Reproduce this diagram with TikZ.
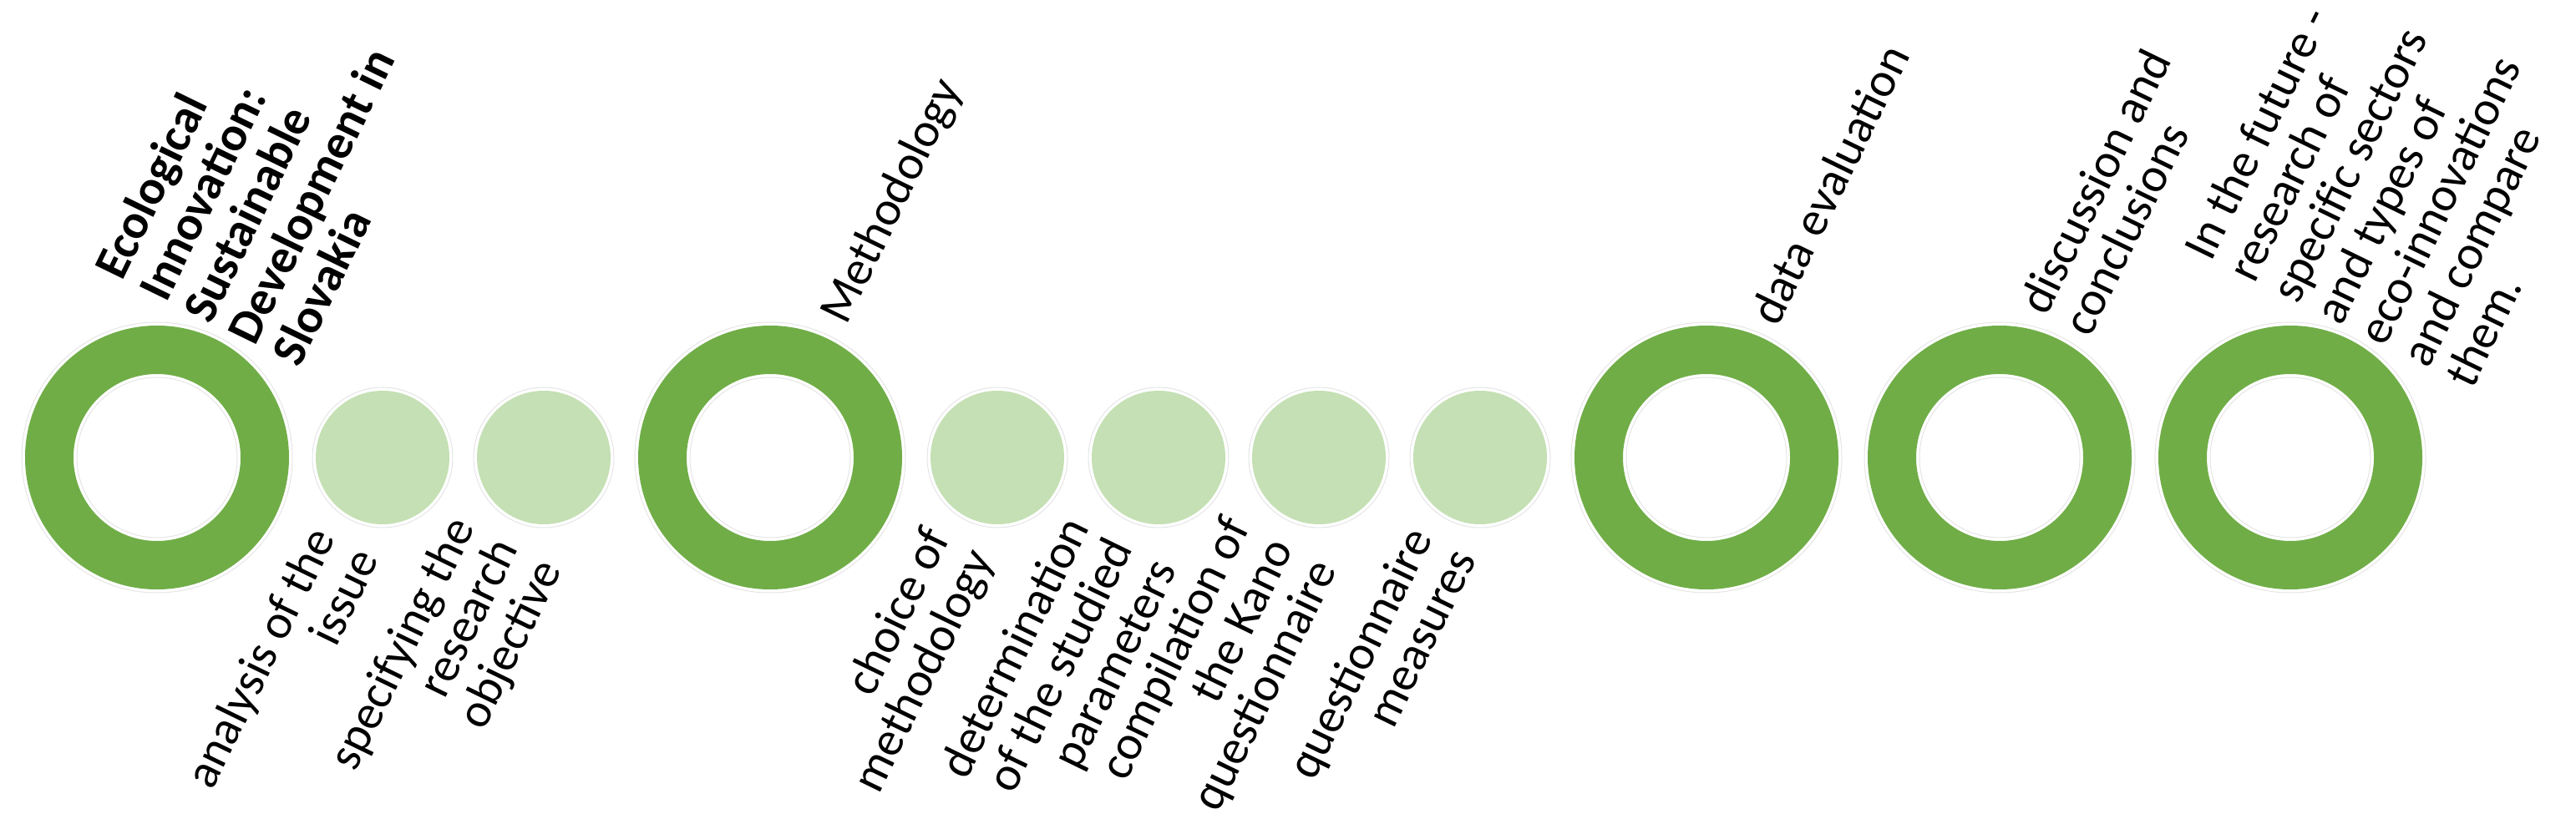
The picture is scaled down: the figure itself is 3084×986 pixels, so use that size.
\documentclass[tikz,border=0pt]{standalone}
\usepackage{fontspec}
\setmainfont{Carlito}
\definecolor{ringgreen}{HTML}{70AD47}
\definecolor{dotgreen}{HTML}{C5E0B4}
\newcommand\labfont{\fontsize{58}{58}\selectfont}
\begin{document}
\begin{tikzpicture}[x=1pt,y=1pt,
  ring/.style={circle, draw=ringgreen, line width=58pt, minimum size=258pt, inner sep=0pt},
  dot/.style={circle, fill=dotgreen, minimum size=160pt, inner sep=0pt},
  faint/.style={draw=black!10, line width=1pt},
  toplab/.style={rotate=64, anchor=north west, align=left, inner sep=0pt, font=\labfont},
  botlab/.style={rotate=64, anchor=north east, align=right, inner sep=0pt, font=\labfont}]
\useasboundingbox (0,0) rectangle (3084,986);
% circles
\node[ring] (r1) at (188,438) {};
\node[dot]  (d1) at (458,438) {};
\node[dot]  (d2) at (651,438) {};
\node[ring] (r2) at (922,438) {};
\node[dot]  (d3) at (1194,438) {};
\node[dot]  (d4) at (1387,438) {};
\node[dot]  (d5) at (1579,438) {};
\node[dot]  (d6) at (1772,438) {};
\node[ring] (r3) at (2043,438) {};
\node[ring] (r4) at (2394,438) {};
\node[ring] (r5) at (2742,438) {};
\foreach \r in {r1,r2,r3,r4,r5}{
  \draw[faint] (\r.center) circle[radius=162];
  \draw[faint] (\r.center) circle[radius=96];
}
\foreach \d in {d1,d2,d3,d4,d5,d6}{
  \draw[faint] (\d.center) circle[radius=84];
}
% top labels
\node[toplab, font=\labfont\bfseries] (t1) at (109.5,665.8) {\strut Ecological\\\strut Innovation:\\\strut Sustainable\\\strut Development in\\\strut Slovakia};
\node[toplab] (t2) at (976.5,612.8) {\strut Methodology};
\node[toplab] (t3) at (2091.5,610.8) {\strut data evaluation};
\node[toplab] (t4) at (2413.5,623.8) {\strut discussion and\\\strut conclusions};
\node[toplab] (t5) at (2610.5,688.8) {\strut In the future -\\\strut research of\\\strut specific sectors\\\strut and types of\\\strut eco-innovations\\\strut and compare\\\strut them.};
% bottom labels
\node[botlab] (b1) at (365.5,359.5) {\strut analysis of the\\\strut issue};
\node[botlab] (b2) at (532.5,372.2) {\strut specifying the\\\strut research\\\strut objective};
\node[botlab] (b3) at (1101.5,359.5) {\strut choice of\\\strut methodology};
\node[botlab] (b4) at (1268.5,372.2) {\strut determination\\\strut of the studied\\\strut parameters};
\node[botlab] (b5) at (1460.5,372.2) {\strut compilation of\\\strut the Kano\\\strut questionnaire};
\node[botlab] (b6) at (1679.5,359.5) {\strut questionnaire\\\strut measures};
\end{tikzpicture}
\end{document}
